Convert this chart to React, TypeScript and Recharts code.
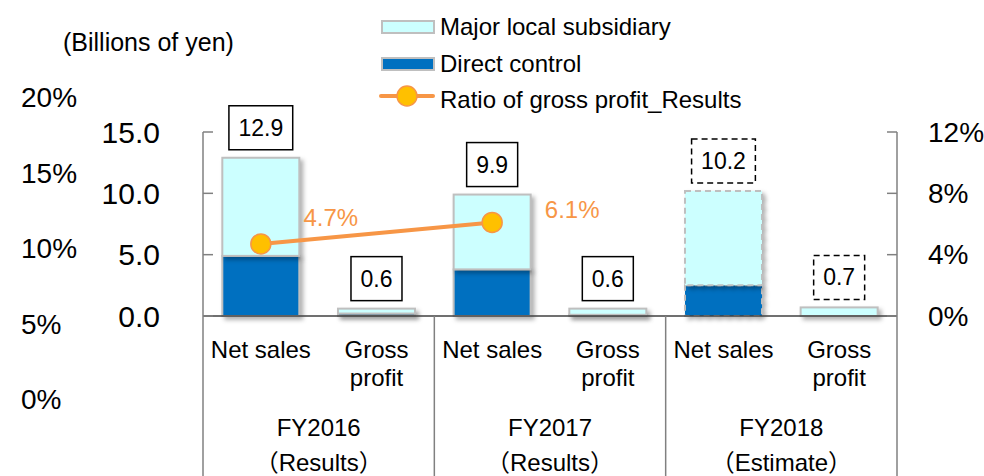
import React from 'react'
import { ComposedChart, Bar, Line, XAxis, YAxis, LabelList } from 'recharts'

// chart values
const categories = ['Net sales', 'Gross profit', 'Net sales', 'Gross profit', 'Net sales', 'Gross profit']
const fiscalYears = ['FY2016', 'FY2017', 'FY2018']
const yearNotes = ['（Results）', '（Results）', '（Estimate）']
const directControl = [4.9, 0.2, 3.8, 0.1, 2.5, 0]
const majorLocal = [8.0, 0.4, 6.1, 0.5, 7.7, 0.7]
const totals = ['12.9', '0.6', '9.9', '0.6', '10.2', '0.7']
const grossRatio: (number | null)[] = [4.7, null, 6.1, null, null, null]
const isEstimate = [false, false, false, false, true, true]
const leftTicks = [0, 5, 10, 15]
const rightTicks = [0, 4, 8, 12]
const strayTicks = ['20%', '15%', '10%', '5%', '0%']

const FONT = '"Liberation Sans", Arial, "Noto Sans CJK JP", sans-serif'
const LIGHT = '#CCFFFF'
const DARK = '#0070C0'
const ORANGE = '#F79646'
const BORDER = '#BFBFBF'
const AXIS = '#808080'

// small nudges for the ratio labels, relative to each point
const ratioLabelOffsets: Record<number, [number, number]> = { 0: [70, -26], 2: [80, -13] }

const data = categories.map((c, i) => ({
  key: `${fiscalYears[Math.floor(i / 2)]}-${c}`,
  category: c,
  direct: directControl[i],
  major: majorLocal[i],
  ratio: grossRatio[i],
}))

function LeftTick({ x, y, payload }: any) {
  return (
    <g>
      <line x1={x + 43} x2={x + 53} y1={y} y2={y} stroke={AXIS} strokeWidth={1.5} />
      <text x={x} y={y} textAnchor="end" dominantBaseline="central" fontSize={30} fontFamily={FONT} fill="#000">
        {payload.value.toFixed(1)}
      </text>
    </g>
  )
}

function RightTick({ x, y, payload }: any) {
  return (
    <g>
      <line x1={x - 41} x2={x - 31} y1={y} y2={y} stroke={AXIS} strokeWidth={1.5} />
      <text x={x} y={y} textAnchor="start" dominantBaseline="central" fontSize={28} fontFamily={FONT} fill="#000">
        {payload.value}%
      </text>
    </g>
  )
}

function CategoryTick({ x, y, payload }: any) {
  const i = payload.index
  const half = payload.offset || (984 - 203 - 87) / 12
  const words = categories[i] === 'Gross profit' ? ['Gross', 'profit'] : [categories[i]]
  const g = Math.floor(i / 2)
  return (
    <g fontFamily={FONT} fontSize={24} fill="#000">
      {words.map((w, k) => (
        <text key={k} x={x} y={y + 33 + k * 28} textAnchor="middle" dominantBaseline="central">
          {w}
        </text>
      ))}
      {i % 2 === 0 && (
        <>
          <line x1={x - half} x2={x - half} y1={y} y2={476} stroke={AXIS} strokeWidth={1.5} />
          <text x={x + half} y={y + 111} textAnchor="middle" dominantBaseline="central">
            {fiscalYears[g]}
          </text>
          <text x={x + half} y={y + 146} textAnchor="middle" dominantBaseline="central">
            {yearNotes[g]}
          </text>
        </>
      )}
      {i === categories.length - 1 && (
        <line x1={x + half} x2={x + half} y1={y} y2={476} stroke={AXIS} strokeWidth={1.5} />
      )}
    </g>
  )
}

function BarShape(props: any) {
  const { x, y, width, height, fill, index } = props
  if (!height || height <= 0) return null
  const dashed = isEstimate[index] && categories[index] === 'Net sales'
  return (
    <rect
      x={x}
      y={y}
      width={width}
      height={height}
      fill={fill}
      stroke={BORDER}
      strokeWidth={2}
      strokeDasharray={dashed ? '6 4' : undefined}
      style={{ filter: 'drop-shadow(3px 3px 2px rgba(0,0,0,0.3))' }}
    />
  )
}

function TotalLabel(props: any) {
  const { x, y, width, index } = props
  const label = totals[index]
  const textW = label.split('').reduce((s: number, ch: string) => s + (ch === '.' ? 6.4 : 12.8), 0)
  const boxW = textW + 19
  const cx = Number(x) + Number(width) / 2
  const top = Number(y)
  return (
    <g>
      <rect
        x={cx - boxW / 2}
        y={top - 52}
        width={boxW}
        height={44}
        fill="#fff"
        stroke="#000"
        strokeWidth={1.5}
        strokeDasharray={isEstimate[index] ? '6 4' : undefined}
      />
      <text x={cx} y={top - 30} textAnchor="middle" dominantBaseline="central" fontSize={23} fontFamily={FONT} fill="#000">
        {label}
      </text>
    </g>
  )
}

function RatioLabel(props: any) {
  const { x, y, value, index } = props
  if (value == null) return null
  const [dx, dy] = ratioLabelOffsets[index] || [75, -20]
  return (
    <text x={Number(x) + dx} y={Number(y) + dy} textAnchor="middle" dominantBaseline="central" fontSize={24} fontFamily={FONT} fill={ORANGE}>
      {value.toFixed(1)}%
    </text>
  )
}

export default function App() {
  return (
    <div style={{ position: 'absolute', left: 0, top: 0, width: 984, height: 476, background: '#fff', fontFamily: FONT }}>
      {/* unit caption */}
      <div style={{ position: 'absolute', left: 63, top: 27, lineHeight: '30px', fontSize: 25 }}>(Billions of yen)</div>

      {/* stray percentage column at the far left */}
      {strayTicks.map((t, i) => (
        <div key={t} style={{ position: 'absolute', left: 21, top: 98 + i * 75.5 - 15, lineHeight: '30px', fontSize: 28 }}>
          {t}
        </div>
      ))}

      {/* legend */}
      <div style={{ position: 'absolute', left: 381, top: 20, width: 50, height: 10, background: LIGHT, border: `2px solid ${BORDER}` }} />
      <div style={{ position: 'absolute', left: 440, top: 12, lineHeight: '30px', fontSize: 24 }}>Major local subsidiary</div>
      <div style={{ position: 'absolute', left: 381, top: 57, width: 50, height: 10, background: DARK, border: `2px solid ${BORDER}` }} />
      <div style={{ position: 'absolute', left: 440, top: 49, lineHeight: '30px', fontSize: 24 }}>Direct control</div>
      <svg style={{ position: 'absolute', left: 378, top: 84 }} width={58} height={24}>
        <line x1={3} x2={55} y1={12} y2={12} stroke={ORANGE} strokeWidth={4} strokeLinecap="round" />
        <circle cx={29} cy={12} r={10} fill="#FFC000" stroke={ORANGE} strokeWidth={1.5} />
      </svg>
      <div style={{ position: 'absolute', left: 440, top: 85, lineHeight: '30px', fontSize: 24 }}>Ratio of gross profit_Results</div>

      <div style={{ position: 'absolute', left: 0, top: 0 }}>
        <ComposedChart width={984} height={476} data={data} margin={{ top: 132, right: 0, bottom: 0, left: 0 }} barCategoryGap="16.7%">
          <XAxis
            dataKey="key"
            height={160}
            interval={0}
            axisLine={{ stroke: '#404040', strokeWidth: 1.5 }}
            tickLine={false}
            tickSize={0}
            tickMargin={0}
            tick={<CategoryTick />}
          />
          <YAxis
            yAxisId="left"
            width={203}
            domain={[0, 15]}
            ticks={leftTicks}
            axisLine={{ stroke: AXIS, strokeWidth: 1.5 }}
            tickLine={false}
            tickSize={0}
            tickMargin={43}
            tick={<LeftTick />}
          />
          <YAxis
            yAxisId="right"
            orientation="right"
            width={87}
            domain={[0, 12]}
            ticks={rightTicks}
            axisLine={{ stroke: AXIS, strokeWidth: 1.5 }}
            tickLine={false}
            tickSize={0}
            tickMargin={31}
            tick={<RightTick />}
          />
          <Bar yAxisId="left" dataKey="direct" name="Direct control" stackId="a" fill={DARK} shape={<BarShape />} isAnimationActive={false} />
          <Bar yAxisId="left" dataKey="major" name="Major local subsidiary" stackId="a" fill={LIGHT} shape={<BarShape />} isAnimationActive={false}>
            <LabelList dataKey="major" content={<TotalLabel />} />
          </Bar>
          <Line
            yAxisId="right"
            dataKey="ratio"
            name="Ratio of gross profit_Results"
            stroke={ORANGE}
            strokeWidth={4}
            connectNulls
            dot={{ r: 10, fill: '#FFC000', stroke: ORANGE, strokeWidth: 1.5 }}
            activeDot={false}
            isAnimationActive={false}
          >
            <LabelList dataKey="ratio" content={<RatioLabel />} />
          </Line>
        </ComposedChart>
      </div>
    </div>
  )
}
